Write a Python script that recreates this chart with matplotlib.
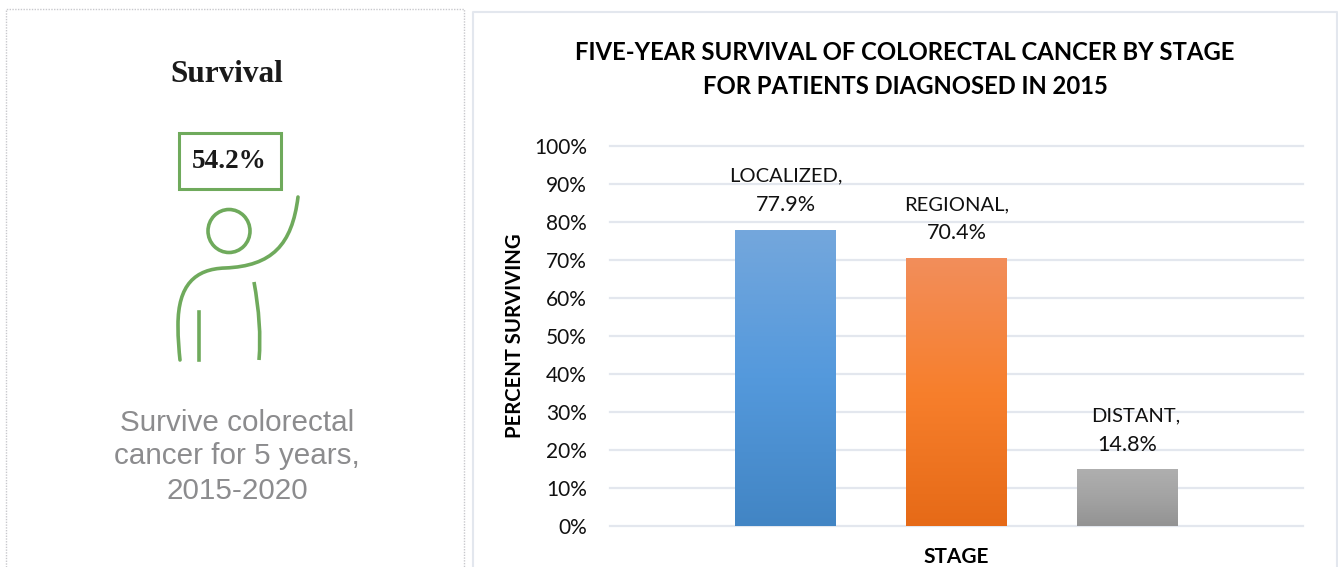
import matplotlib
matplotlib.use('Agg')
import matplotlib.pyplot as plt
import numpy as np
from matplotlib.colors import LinearSegmentedColormap
from matplotlib.patches import Rectangle, Ellipse, PathPatch
from matplotlib.path import Path

stages = ['LOCALIZED,', 'REGIONAL,', 'DISTANT,']
survival = [77.9, 70.4, 14.8]
value_labels = ['77.9%', '70.4%', '14.8%']
yticks = [0, 10, 20, 30, 40, 50, 60, 70, 80, 90, 100]
ytick_labels = ['0%', '10%', '20%', '30%', '40%', '50%', '60%', '70%', '80%', '90%', '100%']
gradients = [
    ['#74A7DC', '#5499DC', '#4285C4'],
    ['#F28E5B', '#F77F2C', '#E66A17'],
    ['#AFAFAF', '#A3A3A3', '#939393'],
]

W, H = 1338, 567
GRID = '#E3E7EE'
CHART_FONT = 'Lato'

fig = plt.figure(figsize=(W / 100, H / 100), dpi=100)

# pixel overlay for panels, icon and the loose text
bg = fig.add_axes([0, 0, 1, 1])
bg.set_xlim(0, W)
bg.set_ylim(H, 0)
bg.axis('off')

# left panel, dotted border
bg.plot([5.5, 5.5, 464, 464], [567, 9, 9, 567], color='#C8C8CC', lw=1, ls=(0, (1, 1)))
# right panel
bg.plot([472.5, 472.5, 1337, 1337], [567, 12, 12, 567], color=GRID, lw=1.5)

bg.text(227, 75, 'Survival', family='Liberation Serif', weight='bold', fontsize=22.5,
        ha='center', va='center', color='#1a1a1a')
bg.add_patch(Rectangle((178.5, 132.5), 102, 56, fill=False, ec='#6FAA5C', lw=2.2))
bg.text(229.5, 161, '54.2%', family='Liberation Serif', weight='bold', fontsize=19.5,
        ha='center', va='center', color='#1a1a1a')

# person icon
green = '#6FAA5C'
bg.add_patch(Ellipse((229, 231), 42, 43, fill=False, ec=green, lw=2.6))
arm = Path([(298, 197), (292, 245), (272, 266), (225, 268),
            (195, 269), (178, 285), (178, 325),
            (178, 340), (179, 350), (180, 360)],
           [Path.MOVETO] + [Path.CURVE4] * 9)
bg.add_patch(PathPatch(arm, fill=False, ec=green, lw=2.6, capstyle='round'))
bg.plot([199, 199], [312, 360], color=green, lw=2.6)
side = Path([(254, 282), (259, 310), (261, 335), (259, 360)], [Path.MOVETO] + [Path.CURVE4] * 3)
bg.add_patch(PathPatch(side, fill=False, ec=green, lw=2.6))

for txt, x, y in [('Survive colorectal', 237, 423), ('cancer for 5 years,', 237, 456), ('2015-2020', 237, 491)]:
    bg.text(x, y, txt, family='Liberation Sans', fontsize=21.3, ha='center', va='center', color='#8C8C8E')

# chart
ax = fig.add_axes([610 / W, 1 - 525.7 / H, 693 / W, 379.7 / H])
ax.patch.set_alpha(0)
x = np.arange(len(stages))
bars = ax.bar(x, survival, width=0.59, color='none', zorder=3)
for bar, colors in zip(bars, gradients):
    cmap = LinearSegmentedColormap.from_list('g', colors)
    grad = np.linspace(0, 1, 256).reshape(-1, 1)
    ax.imshow(grad, cmap=cmap, aspect='auto', zorder=3,
              extent=[bar.get_x(), bar.get_x() + bar.get_width(), 0, bar.get_height()])

ax.set_xlim(-1.03, 3.03)
ax.set_ylim(0, 100)
ax.set_xticks([])
ax.set_yticks(yticks)
ax.set_yticklabels(ytick_labels, family=CHART_FONT, fontsize=15, color='#111111')
ax.tick_params(axis='y', length=0, pad=16.5)
ax.grid(axis='y', color=GRID, lw=1.6, zorder=0)
for gl in ax.get_ygridlines():
    gl.set_clip_on(False)
for s in ax.spines.values():
    s.set_visible(False)

shifts = [0, 0, 8]
for xi, v, name, lab, sh in zip(x, survival, stages, value_labels, shifts):
    ax.annotate(lab, (xi, v), xytext=(0, 25), textcoords='offset pixels', ha='center', va='center',
                family=CHART_FONT, fontsize=15.5, color='#111111', zorder=5)
    ax.annotate(name, (xi, v), xytext=(sh, 54), textcoords='offset pixels', ha='center', va='center',
                family=CHART_FONT, fontsize=14.5, color='#111111', zorder=5)

bg.text(905, 52, 'FIVE-YEAR SURVIVAL OF COLORECTAL CANCER BY STAGE', family=CHART_FONT, weight='bold',
        fontsize=17.2, ha='center', va='center', color='#000000')
bg.text(905, 86, 'FOR PATIENTS DIAGNOSED IN 2015', family=CHART_FONT, weight='bold',
        fontsize=17.2, ha='center', va='center', color='#000000')
bg.text(515, 336, 'PERCENT SURVIVING', family=CHART_FONT, weight='bold', fontsize=14.6,
        rotation=90, ha='center', va='center', color='#000000')
bg.text(956, 557, 'STAGE', family=CHART_FONT, weight='bold', fontsize=15,
        ha='center', va='center', color='#000000')

fig.savefig('out.png', dpi=100)
